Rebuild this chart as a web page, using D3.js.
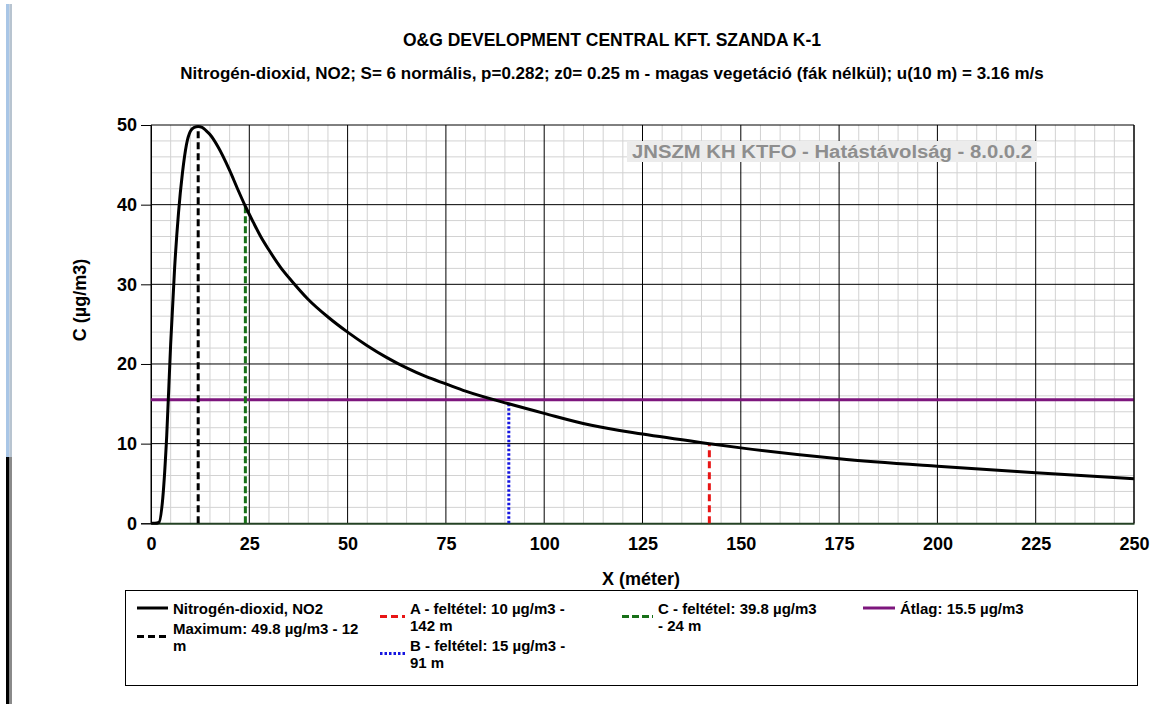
<!DOCTYPE html>
<html lang="hu">
<head>
  <meta charset="UTF-8">
  <title>Hatástávolság</title>
  <script src="https://d3js.org/d3.v7.min.js"></script>
  <style>
    body { margin: 0; background: #fff; }
    text { font-family: "Liberation Sans", Arial, sans-serif; }
    .tick-label { font-size: 18px; font-weight: bold; fill: #000; }
    .legend text { font-size: 15px; font-weight: bold; fill: #000; }
  </style>
</head>
<body>
  <div id="chart"></div>

  <script>
    // distance (m) and concentration (µg/m3)
    const distX = [0, 1, 2, 3, 4, 5, 6, 7, 8, 9, 10, 11, 12, 13, 14, 15, 17, 20, 22, 24,
                   26, 28, 30, 33, 36, 40, 45, 50, 55, 60, 65, 70, 75, 80, 91, 100, 112, 125, 142, 150,
                   175, 200, 225, 250];
    const concY = [0, 0, 0.1, 3.2, 11, 22.5, 32, 39, 44, 47.5, 49.2, 49.7, 49.8, 49.7, 49.3, 48.8, 47.3, 44.3, 42.0, 39.8,
                   37.8, 35.9, 34.3, 32.1, 30.3, 28.1, 25.9, 24.0, 22.3, 20.8, 19.5, 18.4, 17.5, 16.6, 15.0, 13.8, 12.3, 11.2, 10.0, 9.47,
                   8.1, 7.15, 6.35, 5.6];

    const xTicks = [0, 25, 50, 75, 100, 125, 150, 175, 200, 225, 250];
    const yTicks = [0, 10, 20, 30, 40, 50];

    // condition markers
    const markerKeys = ["max", "A", "B", "C"];
    const markerX = [12, 142, 91, 24];
    const markerY = [49.8, 10, 15, 39.8];
    const avgValue = 15.5;

    const legendLabels = {
      series: ["Nitrogén-dioxid, NO2"],
      max: ["Maximum: 49.8 µg/m3 - 12", "m"],
      A: ["A - feltétel: 10 µg/m3 -", "142 m"],
      B: ["B - feltétel: 15 µg/m3 -", "91 m"],
      C: ["C - feltétel: 39.8 µg/m3", "- 24 m"],
      avg: ["Átlag: 15.5 µg/m3"]
    };

    const styles = {
      series: { color: "#000", dash: null },
      max: { color: "#000", dash: "7,4" },
      A: { color: "#e81515", dash: "7,4" },
      B: { color: "#1515e0", dash: "2.5,2" },
      C: { color: "#177017", dash: "7,3" },
      avg: { color: "#7d167d", dash: null }
    };

    const W = 1152, H = 704;
    const svg = d3.select("#chart").append("svg")
      .attr("width", W).attr("height", H);

    // screenshot edge strip on the left
    svg.append("rect").attr("x", 6).attr("y", 4).attr("width", 3.5).attr("height", 453).attr("fill", "#a9c6e6");
    svg.append("rect").attr("x", 9.5).attr("y", 4).attr("width", 2.5).attr("height", 453).attr("fill", "#b8c4d0");
    svg.append("rect").attr("x", 6).attr("y", 457).attr("width", 3.5).attr("height", 247).attr("fill", "#000");
    svg.append("rect").attr("x", 9.5).attr("y", 457).attr("width", 2.5).attr("height", 247).attr("fill", "#8a8a8a");

    const x = d3.scaleLinear().domain([0, 250]).range([151, 1134]);
    const y = d3.scaleLinear().domain([0, 50]).range([523.3, 125]);

    // titles
    svg.append("text").attr("x", 612).attr("y", 46).attr("text-anchor", "middle")
      .style("font-size", "17.5px").style("font-weight", "bold")
      .text("O&G DEVELOPMENT CENTRAL KFT. SZANDA K-1");
    svg.append("text").attr("x", 612).attr("y", 79).attr("text-anchor", "middle")
      .style("font-size", "17px").style("font-weight", "bold")
      .text("Nitrogén-dioxid, NO2; S= 6 normális, p=0.282; z0= 0.25 m - magas vegetáció (fák nélkül); u(10 m) = 3.16 m/s");

    // grid
    const grid = svg.append("g");
    grid.selectAll(".vminor").data(d3.range(0, 251, 5).filter(v => v % 25 !== 0)).enter()
      .append("line")
      .attr("x1", d => x(d)).attr("x2", d => x(d))
      .attr("y1", y(50)).attr("y2", y(0))
      .attr("stroke", "#d2d2d2").attr("stroke-width", 1);
    grid.selectAll(".hminor").data(d3.range(0, 51, 2).filter(v => v % 10 !== 0)).enter()
      .append("line")
      .attr("x1", x(0)).attr("x2", x(250))
      .attr("y1", d => y(d)).attr("y2", d => y(d))
      .attr("stroke", "#d2d2d2").attr("stroke-width", 1);
    grid.selectAll(".vmajor").data(xTicks).enter()
      .append("line")
      .attr("x1", d => x(d)).attr("x2", d => x(d))
      .attr("y1", y(50)).attr("y2", y(0))
      .attr("stroke", "#000").attr("stroke-width", 1);
    grid.selectAll(".hmajor").data(yTicks.filter(v => v > 0)).enter()
      .append("line")
      .attr("x1", x(0)).attr("x2", x(250))
      .attr("y1", d => y(d)).attr("y2", d => y(d))
      .attr("stroke", "#000").attr("stroke-width", 1);

    // watermark
    const wm = svg.append("g");
    wm.append("rect").attr("x", 627).attr("y", 141).attr("width", 410).attr("height", 21).attr("fill", "#ececec");
    wm.append("text").attr("x", 632).attr("y", 157.5)
      .attr("textLength", 400).attr("lengthAdjust", "spacingAndGlyphs")
      .style("font-size", "18px").style("font-weight", "bold").style("fill", "#8e8e8e")
      .text("JNSZM KH KTFO - Hatástávolság  - 8.0.0.2");

    // axes
    const yAxis = svg.append("g").attr("transform", `translate(${x(0)},0)`)
      .call(d3.axisLeft(y).tickValues(yTicks).tickSize(10).tickPadding(4));
    yAxis.select(".domain").attr("stroke", "#000");
    yAxis.selectAll("text").attr("class", "tick-label").style("font-family", "Liberation Sans, Arial, sans-serif");

    const xAxis = svg.append("g").attr("transform", `translate(0,${y(0)})`)
      .call(d3.axisBottom(x).tickValues(xTicks).tickSize(0).tickPadding(14));
    xAxis.select(".domain").attr("stroke", "#244224").attr("stroke-width", 2);
    xAxis.selectAll("text").attr("class", "tick-label").style("font-family", "Liberation Sans, Arial, sans-serif");

    svg.append("text").attr("x", 641).attr("y", 585).attr("text-anchor", "middle")
      .style("font-size", "18px").style("font-weight", "bold").text("X (méter)");
    svg.append("text").attr("transform", "translate(86,300) rotate(-90)").attr("text-anchor", "middle")
      .style("font-size", "18px").style("font-weight", "bold").text("C (µg/m3)");

    // average line
    svg.append("line")
      .attr("x1", x(0)).attr("x2", x(250))
      .attr("y1", y(avgValue)).attr("y2", y(avgValue))
      .attr("stroke", styles.avg.color).attr("stroke-width", 3);

    // marker lines
    svg.selectAll(".marker").data(markerKeys).enter()
      .append("line")
      .attr("x1", (d, i) => x(markerX[i])).attr("x2", (d, i) => x(markerX[i]))
      .attr("y1", y(0)).attr("y2", (d, i) => y(markerY[i]))
      .attr("stroke", d => styles[d].color)
      .attr("stroke-width", 3)
      .attr("stroke-dasharray", d => styles[d].dash);

    // concentration curve
    const pts = distX.map((d, i) => [d, concY[i]]);
    svg.append("path").datum(pts)
      .attr("fill", "none").attr("stroke", "#000").attr("stroke-width", 3)
      .attr("d", d3.line().x(d => x(d[0])).y(d => y(d[1])).curve(d3.curveMonotoneX));

    // right border
    svg.append("line").attr("x1", x(250)).attr("x2", x(250)).attr("y1", y(50)).attr("y2", y(0))
      .attr("stroke", "#000");

    // legend
    const lg = svg.append("g").attr("class", "legend");
    lg.append("rect").attr("x", 125.5).attr("y", 590.5).attr("width", 1012).attr("height", 95)
      .attr("fill", "#fff").attr("stroke", "#000").attr("stroke-width", 1);

    const lineGap = 17;
    const legendItems = [
      { key: "series", lx: 137, tx: 173, ly: 608 },
      { key: "max", lx: 137, tx: 173, ly: 628 },
      { key: "A", lx: 380, tx: 410, ly: 608 },
      { key: "B", lx: 380, tx: 410, ly: 645 },
      { key: "C", lx: 622, tx: 658, ly: 608 },
      { key: "avg", lx: 863, tx: 900, ly: 608 }
    ];
    legendItems.forEach(it => {
      const lines = legendLabels[it.key];
      const sampleY = it.ly + (lines.length - 1) * lineGap / 2;
      lg.append("line")
        .attr("x1", it.lx).attr("x2", it.tx - 5)
        .attr("y1", sampleY).attr("y2", sampleY)
        .attr("stroke", styles[it.key].color).attr("stroke-width", 3)
        .attr("stroke-dasharray", styles[it.key].dash);
      lines.forEach((t, j) => {
        lg.append("text").attr("x", it.tx).attr("y", it.ly + j * lineGap + 5.5).text(t);
      });
    });
  </script>
</body>
</html>
